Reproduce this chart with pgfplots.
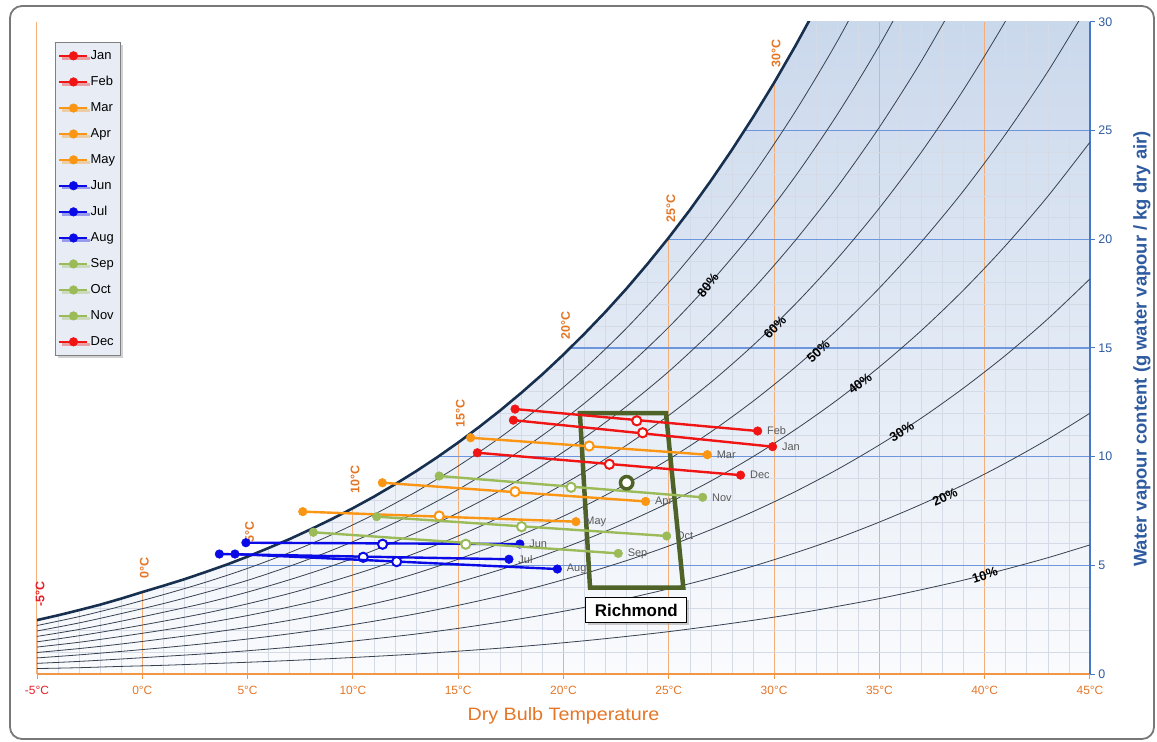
\documentclass[border=0pt]{standalone}
\usepackage{pgfplots}
\pgfplotsset{compat=1.18}
\usepackage{fontspec}
\setmainfont{Liberation Sans}
\usetikzlibrary{shadows}
\definecolor{satnavy}{RGB}{24,48,80}
\definecolor{rhline}{RGB}{55,65,80}
\definecolor{isoorange}{RGB}{244,175,120}
\definecolor{gridblue}{RGB}{110,150,220}
\definecolor{minorgray}{RGB}{212,219,230}
\definecolor{bgtop}{RGB}{202,216,236}
\definecolor{bgbottom}{RGB}{250,251,253}
\definecolor{orangetxt}{RGB}{228,118,40}
\definecolor{redtxt}{RGB}{232,30,40}
\definecolor{axisorange}{RGB}{240,150,70}
\definecolor{axisblue}{RGB}{70,120,200}
\definecolor{bluetxt}{RGB}{46,90,160}
\definecolor{cred}{RGB}{240,20,20}
\definecolor{corange}{RGB}{250,150,20}
\definecolor{cblue}{RGB}{10,10,230}
\definecolor{cgreen}{RGB}{155,187,89}
\definecolor{olive}{RGB}{79,98,40}
\definecolor{legbg}{RGB}{232,237,245}
\definecolor{framegray}{RGB}{120,120,120}
\definecolor{lblgray}{RGB}{90,90,90}
\pgfplotsset{
  month/.style={color=#1, line width=2.4bp, mark=*, mark size=4.3bp, mark options={solid, fill=#1, line width=0.5bp}},
  mid/.style={only marks, mark=*, mark size=4.6bp, mark options={solid, fill=white, draw=#1, line width=2bp}, forget plot},
  rh/.style={rhline, line width=0.8bp, smooth, forget plot},
}
\tikzset{
  mlabel/.style={anchor=west, xshift=6bp, font=\fontsize{11}{13}\selectfont, text=lblgray},
  isolabel/.style={rotate=90, anchor=west, font=\bfseries\fontsize{12.5}{15}\selectfont, text=orangetxt},
  pct/.style={font=\bfseries\fontsize{13}{15}\selectfont, text=black},
}
\begin{document}
\begin{tikzpicture}
\draw[rounded corners=12bp, line width=1.8bp, framegray] (-27bp,-65bp) rectangle (1117bp,668bp);
\begin{axis}[
  set layers, clip mode=individual,
  at={(0bp,0bp)}, anchor=south west,
  scale only axis, width=1053bp, height=652bp,
  xmin=-5, xmax=45, ymin=0, ymax=30,
  axis x line*=bottom, axis y line*=right,
  x axis line style={axisorange, line width=2bp},
  y axis line style={axisblue, line width=2bp},
  xtick={-5,0,...,45},
  xticklabels={\textcolor{redtxt}{-5°C},0°C,5°C,10°C,15°C,20°C,25°C,30°C,35°C,40°C,45°C},
  ytick={0,5,...,25},
  yticklabels={0,5,10,15,20,25},
  extra y ticks={30}, extra y tick labels={30},
  extra y tick style={grid=none},
  minor x tick num=4, minor y tick num=4,
  grid=both,
  minor grid style={color=minorgray, line width=0.6bp},
  major x grid style={color=isoorange, line width=1.1bp},
  major y grid style={color=gridblue, line width=1.2bp},
  tick align=outside,
  major tick length=5bp, minor tick length=0pt,
  x tick style={axisorange, line width=1bp},
  y tick style={axisblue, line width=1bp},
  xticklabel style={font=\fontsize{12}{14}\selectfont, text=orangetxt, yshift=-4bp},
  yticklabel style={font=\fontsize{12.5}{14}\selectfont, text=bluetxt},
  axis background/.style={shade, top color=bgtop, bottom color=bgbottom},
  legend style={at={(axis description cs:0.017,0.969)}, anchor=north west, fill=legbg, draw=gray, line width=0.8bp,
    font=\fontsize{13}{15}\selectfont, row sep=11.5bp, inner xsep=3bp, inner ysep=6bp,
    drop shadow={shadow xshift=2.5bp, shadow yshift=-2.5bp, opacity=0.35}},
  legend cell align=left,
  legend image code/.code={\draw[mark repeat=2,mark phase=2] plot coordinates {(0bp,0bp) (14bp,0bp) (28bp,0bp)};},
]
% white area above the saturation curve (hides grid there)
\addplot[fill=white, draw=none, forget plot] coordinates {
(-5,2.48) (-4,2.70) (-3,2.94) (-2,3.19) (-1,3.47) (0,3.77) (1,4.06) (2,4.36) (3,4.69) (4,5.03)
(5,5.40) (6,5.80) (7,6.21) (8,6.66) (9,7.13) (10,7.63) (11,8.16) (12,8.73) (13,9.33) (14,9.97)
(15,10.65) (16,11.37) (17,12.13) (18,12.94) (19,13.79) (20,14.70) (21,15.66) (22,16.67) (23,17.74)
(24,18.88) (25,20.08) (26,21.35) (27,22.70) (28,24.12) (29,25.62) (30,27.20) (31,28.88) (32,30.65)
(32,32) (-6,32) (-6,2.48)};
% relative humidity curves
\addplot[rh] coordinates {(-5,0.25) (-3,0.29) (-1,0.35) (1,0.40) (3,0.47) (5,0.54) (7,0.62) (9,0.71) (11,0.81) (13,0.92) (15,1.05) (17,1.19) (19,1.35) (21,1.53) (23,1.73) (25,1.95) (27,2.20) (29,2.47) (31,2.77) (33,3.11) (35,3.47) (37,3.88) (39,4.32) (41,4.82) (43,5.35) (45,5.94)};
\addplot[rh] coordinates {(-5,0.49) (-3,0.58) (-1,0.69) (1,0.81) (3,0.93) (5,1.07) (7,1.23) (9,1.41) (11,1.62) (13,1.84) (15,2.10) (17,2.39) (19,2.71) (21,3.07) (23,3.47) (25,3.92) (27,4.41) (29,4.96) (31,5.57) (33,6.24) (35,6.99) (37,7.81) (39,8.71) (41,9.71) (43,10.80) (45,12.00)};
\addplot[rh] coordinates {(-5,0.74) (-3,0.88) (-1,1.04) (1,1.21) (3,1.40) (5,1.61) (7,1.85) (9,2.12) (11,2.43) (13,2.77) (15,3.16) (17,3.59) (19,4.07) (21,4.62) (23,5.22) (25,5.89) (27,6.64) (29,7.47) (31,8.39) (33,9.41) (35,10.54) (37,11.78) (39,13.16) (41,14.67) (43,16.34) (45,18.18)};
\addplot[rh] coordinates {(-5,0.99) (-3,1.17) (-1,1.38) (1,1.62) (3,1.87) (5,2.15) (7,2.47) (9,2.83) (11,3.24) (13,3.70) (15,4.22) (17,4.80) (19,5.44) (21,6.17) (23,6.98) (25,7.88) (27,8.88) (29,10.00) (31,11.24) (33,12.61) (35,14.13) (37,15.81) (39,17.67) (41,19.72) (43,21.98) (45,24.47)};
\addplot[rh] coordinates {(-5,1.24) (-3,1.46) (-1,1.73) (1,2.02) (3,2.34) (5,2.69) (7,3.09) (9,3.54) (11,4.06) (13,4.63) (15,5.28) (17,6.01) (19,6.82) (21,7.73) (23,8.75) (25,9.88) (27,11.14) (29,12.55) (31,14.11) (33,15.84) (35,17.76) (37,19.89) (39,22.24) (41,24.85) (43,27.72) (45,30.90)};
\addplot[rh] coordinates {(-5,1.48) (-3,1.76) (-1,2.08) (1,2.43) (3,2.80) (5,3.23) (7,3.71) (9,4.26) (11,4.87) (13,5.57) (15,6.35) (17,7.22) (19,8.20) (21,9.30) (23,10.53) (25,11.90) (27,13.42) (29,15.12) (31,17.01) (33,19.11) (35,21.44) (37,24.02) (39,26.89) (41,30.06) (43,33.56)};
\addplot[rh] coordinates {(-5,1.73) (-3,2.05) (-1,2.43) (1,2.84) (3,3.27) (5,3.77) (7,4.34) (9,4.97) (11,5.69) (13,6.50) (15,7.42) (17,8.44) (19,9.59) (21,10.88) (23,12.32) (25,13.92) (27,15.72) (29,17.71) (31,19.94) (33,22.41) (35,25.16) (37,28.21) (39,31.59)};
\addplot[rh] coordinates {(-5,1.98) (-3,2.35) (-1,2.78) (1,3.24) (3,3.75) (5,4.31) (7,4.96) (9,5.69) (11,6.51) (13,7.44) (15,8.49) (17,9.67) (19,10.98) (21,12.46) (23,14.12) (25,15.96) (27,18.03) (29,20.33) (31,22.89) (33,25.74) (35,28.92) (37,32.45)};
\addplot[rh] coordinates {(-5,2.23) (-3,2.64) (-1,3.12) (1,3.65) (3,4.22) (5,4.86) (7,5.59) (9,6.41) (11,7.34) (13,8.39) (15,9.57) (17,10.89) (19,12.38) (21,14.05) (23,15.92) (25,18.02) (27,20.35) (29,22.96) (31,25.87) (33,29.11) (35,32.72)};
% saturation curve
\addplot[satnavy, line width=2.6bp, forget plot] coordinates {
(-5,2.48) (-4,2.70) (-3,2.94) (-2,3.19) (-1,3.47) (0,3.77) (1,4.06) (2,4.36) (3,4.69) (4,5.03)
(5,5.40) (6,5.80) (7,6.21) (8,6.66) (9,7.13) (10,7.63) (11,8.16) (12,8.73) (13,9.33) (14,9.97)
(15,10.65) (16,11.37) (17,12.13) (18,12.94) (19,13.79) (20,14.70) (21,15.66) (22,16.67) (23,17.74)
(24,18.88) (25,20.08) (26,21.35) (27,22.70) (28,24.12) (29,25.62) (30,27.20) (31,28.88) (32,30.65)};
% isotherm labels
\node[isolabel, text=redtxt] at (axis cs:-4.85,2.95) {-5°C};
\node[isolabel] at (axis cs:0.1,4.25) {0°C};
\node[isolabel] at (axis cs:5.1,5.9) {5°C};
\node[isolabel] at (axis cs:10.1,8.15) {10°C};
\node[isolabel] at (axis cs:15.1,11.2) {15°C};
\node[isolabel] at (axis cs:20.1,15.25) {20°C};
\node[isolabel] at (axis cs:25.1,20.6) {25°C};
\node[isolabel] at (axis cs:30.1,27.75) {30°C};
% RH labels
\node[pct, rotate=52] at (axis cs:26.86,17.89) {80\%};
\node[pct, rotate=46] at (axis cs:30.04,15.95) {60\%};
\node[pct, rotate=43] at (axis cs:32.10,14.85) {50\%};
\node[pct, rotate=38] at (axis cs:34.08,13.37) {40\%};
\node[pct, rotate=32] at (axis cs:36.06,11.15) {30\%};
\node[pct, rotate=25] at (axis cs:38.11,8.16) {20\%};
\node[pct, rotate=18] at (axis cs:40.01,4.55) {10\%};
% comfort zone
\addplot[olive, line width=4.5bp, forget plot] coordinates {(20.78,12.0) (24.87,12.0) (25.69,3.97) (21.26,3.97) (20.78,12.0) (24.87,12.0)};
% months
\addplot[month=cred] coordinates {(17.62,11.68) (29.93,10.46)};
\addlegendentry{Jan}
\addplot[mid=cred] coordinates {(23.76,11.10)};
\addplot[month=cred] coordinates {(17.70,12.19) (29.22,11.18)};
\addlegendentry{Feb}
\addplot[mid=cred] coordinates {(23.48,11.65)};
\addplot[month=corange] coordinates {(15.59,10.87) (26.83,10.09)};
\addlegendentry{Mar}
\addplot[mid=corange] coordinates {(21.22,10.49)};
\addplot[month=corange] coordinates {(11.40,8.80) (23.90,7.94)};
\addlegendentry{Apr}
\addplot[mid=corange] coordinates {(17.70,8.39)};
\addplot[month=corange] coordinates {(7.62,7.47) (20.59,7.01)};
\addlegendentry{May}
\addplot[mid=corange] coordinates {(14.10,7.27)};
\addplot[month=cblue] coordinates {(4.92,6.04) (17.93,5.98)};
\addlegendentry{Jun}
\addplot[mid=cblue] coordinates {(11.41,5.97)};
\addplot[month=cblue] coordinates {(3.66,5.52) (17.41,5.28)};
\addlegendentry{Jul}
\addplot[mid=cblue] coordinates {(10.49,5.37)};
\addplot[month=cblue] coordinates {(4.40,5.52) (19.71,4.83)};
\addlegendentry{Aug}
\addplot[mid=cblue] coordinates {(12.08,5.17)};
\addplot[month=cgreen] coordinates {(8.12,6.52) (22.60,5.55)};
\addlegendentry{Sep}
\addplot[mid=cgreen] coordinates {(15.36,5.97)};
\addplot[month=cgreen] coordinates {(11.13,7.24) (24.90,6.35)};
\addlegendentry{Oct}
\addplot[mid=cgreen] coordinates {(18.01,6.78)};
\addplot[month=cgreen] coordinates {(14.10,9.11) (26.61,8.13)};
\addlegendentry{Nov}
\addplot[mid=cgreen] coordinates {(20.36,8.59)};
\addplot[month=cred] coordinates {(15.91,10.18) (28.41,9.15)};
\addlegendentry{Dec}
\addplot[mid=cred] coordinates {(22.18,9.65)};
% month labels
\node[mlabel] at (axis cs:29.93,10.46) {Jan};
\node[mlabel] at (axis cs:29.22,11.18) {Feb};
\node[mlabel] at (axis cs:26.83,10.09) {Mar};
\node[mlabel] at (axis cs:23.90,7.94) {Apr};
\node[mlabel] at (axis cs:20.59,7.01) {May};
\node[mlabel] at (axis cs:17.93,5.98) {Jun};
\node[mlabel] at (axis cs:17.41,5.28) {Jul};
\node[mlabel] at (axis cs:19.71,4.83) {Aug};
\node[mlabel] at (axis cs:22.60,5.55) {Sep};
\node[mlabel] at (axis cs:24.90,6.35) {Oct};
\node[mlabel] at (axis cs:26.61,8.13) {Nov};
\node[mlabel] at (axis cs:28.41,9.15) {Dec};
% comfort centre
\addplot[only marks, mark=*, mark size=6.2bp, mark options={fill=white, draw=olive, line width=3.5bp}, forget plot] coordinates {(23.0,8.80)};
\node[draw=black, fill=white, line width=0.8bp, font=\bfseries\fontsize{17}{19}\selectfont, minimum width=101bp, minimum height=25bp, inner sep=2bp,
  drop shadow={shadow xshift=2.5bp, shadow yshift=-2.5bp, opacity=0.4}] at (axis cs:23.46,2.94) {Richmond};
\end{axis}
\node[font=\fontsize{18}{20}\selectfont, text=orangetxt] at (526.5bp,-42bp) {\scalebox{1.1}[1]{Dry Bulb Temperature}};
\node[rotate=90, font=\bfseries\fontsize{18.5}{20}\selectfont, text=bluetxt] at (1105bp,325bp) {Water vapour content (g water vapour / kg dry air)};
\pgfresetboundingbox
\path[use as bounding box] (-37bp,-68bp) rectangle (1120bp,674bp);
\end{tikzpicture}
\end{document}
